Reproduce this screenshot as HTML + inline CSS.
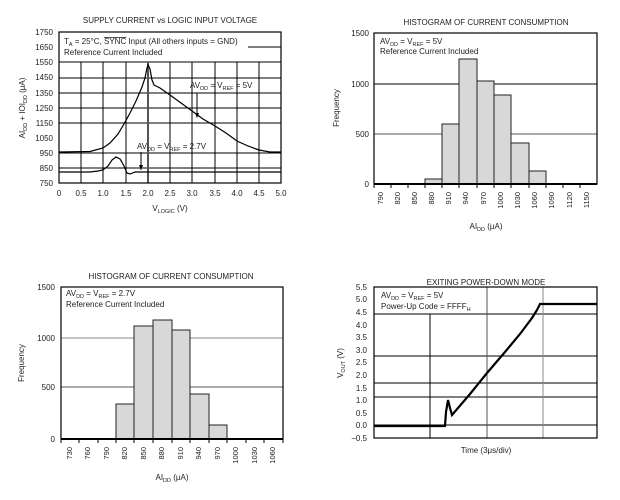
<!DOCTYPE html>
<html><head><meta charset="utf-8"><style>
body{margin:0;background:#fff}
svg{display:block;font-family:"Liberation Sans",sans-serif}
text{fill:#222}
</style></head><body>
<svg width="620" height="500" viewBox="0 0 620 500" xmlns="http://www.w3.org/2000/svg">
<!-- Chart 1 -->
<g font-size="8">
<text x="170" y="23" text-anchor="middle" font-size="8">SUPPLY CURRENT vs LOGIC INPUT VOLTAGE</text>
<g stroke="#000" stroke-width="1">
<line x1="59" y1="168" x2="281" y2="168"/><line x1="59" y1="153" x2="281" y2="153"/>
<line x1="59" y1="123" x2="281" y2="123"/><line x1="59" y1="108" x2="281" y2="108"/>
<line x1="59" y1="93" x2="281" y2="93"/><line x1="59" y1="78" x2="281" y2="78"/>
<line x1="59" y1="62" x2="281" y2="62"/><line x1="248" y1="47" x2="281" y2="47"/>
<line x1="81" y1="62" x2="81" y2="183"/><line x1="103" y1="62" x2="103" y2="183"/>
<line x1="126" y1="62" x2="126" y2="183"/><line x1="170" y1="62" x2="170" y2="183"/>
<line x1="192" y1="62" x2="192" y2="183"/><line x1="215" y1="62" x2="215" y2="183"/>
<line x1="237" y1="62" x2="237" y2="183"/><line x1="259" y1="62" x2="259" y2="183"/>
<line x1="148" y1="62" x2="148" y2="183" stroke-width="2" stroke="#555"/>
</g>
<rect x="59" y="32" width="222" height="151" fill="none" stroke="#000" stroke-width="1.2"/>
<g text-anchor="end">
<text x="53" y="35">1750</text><text x="53" y="50">1650</text><text x="53" y="65">1550</text><text x="53" y="80">1450</text><text x="53" y="96">1350</text><text x="53" y="111">1250</text><text x="53" y="126">1150</text><text x="53" y="141">1050</text><text x="53" y="156">950</text><text x="53" y="171">850</text><text x="53" y="186">750</text>
</g>
<g text-anchor="middle">
<text x="59" y="196">0</text><text x="81" y="196">0.5</text><text x="103" y="196">1.0</text><text x="126" y="196">1.5</text><text x="148" y="196">2.0</text><text x="170" y="196">2.5</text><text x="192" y="196">3.0</text><text x="215" y="196">3.5</text><text x="237" y="196">4.0</text><text x="259" y="196">4.5</text><text x="281" y="196">5.0</text>
<text x="170" y="211">V<tspan font-size="5.5" dy="2">LOGIC</tspan><tspan dy="-2"> (V)</tspan></text>
</g>
<text transform="translate(25,108) rotate(-90)" text-anchor="middle">AI<tspan font-size="5.5" dy="2">DD</tspan><tspan dy="-2"> + IOI</tspan><tspan font-size="5.5" dy="2">DD</tspan><tspan dy="-2"> (μA)</tspan></text>
<text x="64" y="44">T<tspan font-size="5.5" dy="2">A</tspan><tspan dy="-2"> = 25°C, </tspan><tspan text-decoration="overline">SYNC</tspan> Input (All others inputs = GND)</text>
<text x="64" y="55">Reference Current Included</text>
<text x="190" y="88">AV<tspan font-size="5.5" dy="2">DD</tspan><tspan dy="-2"> = V</tspan><tspan font-size="5.5" dy="2">REF</tspan><tspan dy="-2"> = 5V</tspan></text>
<text x="137" y="149">AV<tspan font-size="5.5" dy="2">DD</tspan><tspan dy="-2"> = V</tspan><tspan font-size="5.5" dy="2">REF</tspan><tspan dy="-2"> = 2.7V</tspan></text>
<line x1="197" y1="93" x2="197" y2="117" stroke="#000"/><polygon points="195,113 199,113 197,118" fill="#000"/>
<line x1="141" y1="152" x2="141" y2="170" stroke="#000"/><polygon points="139,165 143,165 141,170" fill="#000"/>
<polyline fill="none" stroke="#000" stroke-width="1.2" points="59,152 90,151.5 103,148 110,143 118,134 124,124 130,113 136,101 142,87 145,78 147,68 148,65 150,69 152,80 154,85 160,88 170,95 181,103 192,111 203,119 215,126 226,133 237,141 248,146 259,150 270,152 281,152"/>
<polyline fill="none" stroke="#000" stroke-width="1.2" points="59,172 90,172 98,171 103,170 108,166 112,160 116,157 120,159 124,166 127,173 130,174 135,172 148,172 281,172"/>
</g>
<!-- Chart 2 -->
<g font-size="8">
<text x="486" y="25" text-anchor="middle">HISTOGRAM OF CURRENT CONSUMPTION</text>
<line x1="374" y1="84" x2="597" y2="84" stroke="#000"/><line x1="374" y1="134" x2="597" y2="134" stroke="#555"/>
<g fill="#d8d8d8" stroke="#222" stroke-width="1">
<rect x="425" y="179" width="17" height="5"/><rect x="442" y="124" width="17" height="60"/><rect x="459" y="59" width="18" height="125"/><rect x="477" y="81" width="17" height="103"/><rect x="494" y="95" width="17" height="89"/><rect x="511" y="143" width="18" height="41"/><rect x="529" y="171" width="17" height="13"/>
</g>
<rect x="374" y="33" width="223" height="151" fill="none" stroke="#000" stroke-width="1.2"/>
<line x1="374" y1="184" x2="597" y2="184" stroke="#000" stroke-width="2"/>
<g stroke="#000"><line x1="374" y1="184" x2="374" y2="188"/><line x1="391" y1="184" x2="391" y2="188"/><line x1="408" y1="184" x2="408" y2="188"/><line x1="425" y1="184" x2="425" y2="188"/><line x1="442" y1="184" x2="442" y2="188"/><line x1="459" y1="184" x2="459" y2="188"/><line x1="477" y1="184" x2="477" y2="188"/><line x1="494" y1="184" x2="494" y2="188"/><line x1="511" y1="184" x2="511" y2="188"/><line x1="529" y1="184" x2="529" y2="188"/><line x1="546" y1="184" x2="546" y2="188"/><line x1="563" y1="184" x2="563" y2="188"/><line x1="580" y1="184" x2="580" y2="188"/></g>
<g text-anchor="end">
<text x="369" y="36">1500</text><text x="369" y="87">1000</text><text x="369" y="137">500</text><text x="369" y="187">0</text>
</g>
<g text-anchor="end" font-size="7.5">
<text transform="translate(383,192) rotate(-90)">790</text><text transform="translate(400,192) rotate(-90)">820</text><text transform="translate(417,192) rotate(-90)">850</text><text transform="translate(434,192) rotate(-90)">880</text><text transform="translate(451,192) rotate(-90)">910</text><text transform="translate(468,192) rotate(-90)">940</text><text transform="translate(486,192) rotate(-90)">970</text><text transform="translate(503,192) rotate(-90)">1000</text><text transform="translate(520,192) rotate(-90)">1030</text><text transform="translate(537,192) rotate(-90)">1060</text><text transform="translate(554,192) rotate(-90)">1090</text><text transform="translate(572,192) rotate(-90)">1120</text><text transform="translate(589,192) rotate(-90)">1150</text>
</g>
<text x="486" y="229" text-anchor="middle">AI<tspan font-size="5.5" dy="2">DD</tspan><tspan dy="-2"> (μA)</tspan></text>
<text transform="translate(339,108) rotate(-90)" text-anchor="middle">Frequency</text>
<text x="380" y="44">AV<tspan font-size="5.5" dy="2">DD</tspan><tspan dy="-2"> = V</tspan><tspan font-size="5.5" dy="2">REF</tspan><tspan dy="-2"> = 5V</tspan></text>
<text x="380" y="54">Reference Current Included</text>
</g>
<!-- Chart 3 -->
<g font-size="8">
<text x="171" y="279" text-anchor="middle">HISTOGRAM OF CURRENT CONSUMPTION</text>
<line x1="61" y1="338" x2="283" y2="338" stroke="#888"/><line x1="61" y1="387" x2="283" y2="387" stroke="#555"/>
<g fill="#d8d8d8" stroke="#222" stroke-width="1">
<rect x="116" y="404" width="18" height="35"/><rect x="134" y="326" width="19" height="113"/><rect x="153" y="320" width="19" height="119"/><rect x="172" y="330" width="18" height="109"/><rect x="190" y="394" width="19" height="45"/><rect x="209" y="425" width="18" height="14"/>
</g>
<rect x="61" y="287" width="222" height="152" fill="none" stroke="#000" stroke-width="1.2"/>
<line x1="61" y1="439" x2="283" y2="439" stroke="#000" stroke-width="2"/>
<g stroke="#000"><line x1="61" y1="439" x2="61" y2="443"/><line x1="79" y1="439" x2="79" y2="443"/><line x1="98" y1="439" x2="98" y2="443"/><line x1="116" y1="439" x2="116" y2="443"/><line x1="134" y1="439" x2="134" y2="443"/><line x1="153" y1="439" x2="153" y2="443"/><line x1="172" y1="439" x2="172" y2="443"/><line x1="190" y1="439" x2="190" y2="443"/><line x1="209" y1="439" x2="209" y2="443"/><line x1="227" y1="439" x2="227" y2="443"/><line x1="246" y1="439" x2="246" y2="443"/><line x1="264" y1="439" x2="264" y2="443"/><line x1="283" y1="439" x2="283" y2="443"/></g>
<g text-anchor="end">
<text x="55" y="290">1500</text><text x="55" y="341">1000</text><text x="55" y="390">500</text><text x="55" y="442">0</text>
</g>
<g text-anchor="end" font-size="7.5">
<text transform="translate(72,447) rotate(-90)">730</text><text transform="translate(90,447) rotate(-90)">760</text><text transform="translate(109,447) rotate(-90)">790</text><text transform="translate(127,447) rotate(-90)">820</text><text transform="translate(146,447) rotate(-90)">850</text><text transform="translate(164,447) rotate(-90)">880</text><text transform="translate(183,447) rotate(-90)">910</text><text transform="translate(201,447) rotate(-90)">940</text><text transform="translate(220,447) rotate(-90)">970</text><text transform="translate(238,447) rotate(-90)">1000</text><text transform="translate(257,447) rotate(-90)">1030</text><text transform="translate(275,447) rotate(-90)">1060</text>
</g>
<text x="172" y="480" text-anchor="middle">AI<tspan font-size="5.5" dy="2">DD</tspan><tspan dy="-2"> (μA)</tspan></text>
<text transform="translate(24,363) rotate(-90)" text-anchor="middle">Frequency</text>
<text x="66" y="296">AV<tspan font-size="5.5" dy="2">DD</tspan><tspan dy="-2"> = V</tspan><tspan font-size="5.5" dy="2">REF</tspan><tspan dy="-2"> = 2.7V</tspan></text>
<text x="66" y="307">Reference Current Included</text>
</g>
<!-- Chart 4 -->
<g font-size="8">
<text x="486" y="285" text-anchor="middle">EXITING POWER-DOWN MODE</text>
<g stroke="#000" stroke-width="1">
<line x1="374" y1="314" x2="597" y2="314"/><line x1="374" y1="356" x2="597" y2="356"/><line x1="374" y1="383" x2="597" y2="383"/><line x1="374" y1="397" x2="597" y2="397"/><line x1="374" y1="425" x2="597" y2="425"/>
<line x1="430" y1="314" x2="430" y2="438"/><line x1="487" y1="287" x2="487" y2="438" stroke="#555"/><line x1="543" y1="287" x2="543" y2="438" stroke="#888"/>
</g>
<rect x="374" y="287" width="223" height="151" fill="none" stroke="#000" stroke-width="1.2"/>
<g text-anchor="end">
<text x="367" y="290">5.5</text><text x="367" y="302">5.0</text><text x="367" y="315">4.5</text><text x="367" y="328">4.0</text><text x="367" y="340">3.5</text><text x="367" y="353">3.0</text><text x="367" y="365">2.5</text><text x="367" y="378">2.0</text><text x="367" y="391">1.5</text><text x="367" y="403">1.0</text><text x="367" y="416">0.5</text><text x="367" y="428">0.0</text><text x="367" y="441">−0.5</text>
</g>
<text transform="translate(343,363) rotate(-90)" text-anchor="middle">V<tspan font-size="5.5" dy="2">OUT</tspan><tspan dy="-2"> (V)</tspan></text>
<text x="486" y="453" text-anchor="middle">Time (3μs/div)</text>
<text x="381" y="298">AV<tspan font-size="5.5" dy="2">DD</tspan><tspan dy="-2"> = V</tspan><tspan font-size="5.5" dy="2">REF</tspan><tspan dy="-2"> = 5V</tspan></text>
<text x="381" y="309">Power-Up Code = FFFF<tspan font-size="5.5" dy="2">H</tspan></text>
<polyline fill="none" stroke="#000" stroke-width="2.2" points="374,426 445,426 446,412 448,400 450,408 452,415 470,394 487,373 505,352 520,334 532,318 537,310 540,304 597,304"/>
</g>
</svg>
</body></html>
